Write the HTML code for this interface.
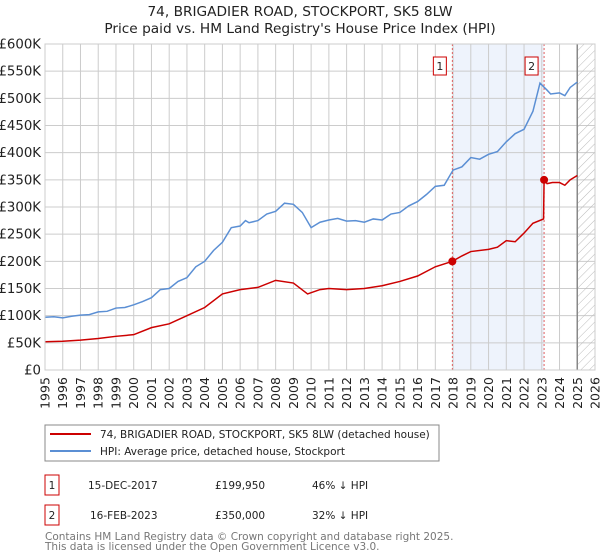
<!DOCTYPE html>
<html><head><meta charset="utf-8"><style>
body{margin:0;background:#fff;}
svg{display:block}
svg text{font-family:"DejaVu Sans","Liberation Sans",sans-serif;}
</style></head><body>
<svg id="c" width="600" height="560" xmlns="http://www.w3.org/2000/svg">
<defs><pattern id="hatch" width="6" height="6" patternUnits="userSpaceOnUse" patternTransform="rotate(45)"><line x1="0" y1="0" x2="0" y2="6" stroke="#bbb" stroke-width="1"/></pattern></defs>
<text x="300" y="16" text-anchor="middle" font-size="13.7" fill="#222">74, BRIGADIER ROAD, STOCKPORT, SK5 8LW</text>
<text x="300" y="33" text-anchor="middle" font-size="13.7" fill="#222">Price paid vs. HM Land Registry's House Price Index (HPI)</text>
<g id="grid"></g><g id="marks"></g><g id="axes"></g>
<rect x="45" y="425" width="394" height="36" fill="#fff" stroke="#888"/>
<line x1="50" y1="434" x2="91" y2="434" stroke="#cc0000" stroke-width="2"/>
<text x="100" y="438" font-size="10.5" fill="#222">74, BRIGADIER ROAD, STOCKPORT, SK5 8LW (detached house)</text>
<line x1="50" y1="451" x2="91" y2="451" stroke="#5b8fd4" stroke-width="2"/>
<text x="100" y="455" font-size="10.5" fill="#222">HPI: Average price, detached house, Stockport</text>
<g font-size="10.5" fill="#222">
<rect x="45" y="475" width="14" height="20" fill="none" stroke="#cc0000"/>
<text x="52" y="489" text-anchor="middle">1</text>
<text x="88" y="489">15-DEC-2017</text>
<text x="215" y="489">£199,950</text>
<text x="312" y="489">46% ↓ HPI</text>
<rect x="45" y="505" width="14" height="20" fill="none" stroke="#cc0000"/>
<text x="52" y="519" text-anchor="middle">2</text>
<text x="90" y="519">16-FEB-2023</text>
<text x="215" y="519">£350,000</text>
<text x="312" y="519">32% ↓ HPI</text>
</g>
<text x="45" y="540" font-size="10.5" fill="#777">Contains HM Land Registry data © Crown copyright and database right 2025.</text>
<text x="45" y="550" font-size="10.5" fill="#777">This data is licensed under the Open Government Licence v3.0.</text>
</svg>
<script>
const yearTicks=[1995,1996,1997,1998,1999,2000,2001,2002,2003,2004,2005,2006,2007,2008,2009,2010,2011,2012,2013,2014,2015,2016,2017,2018,2019,2020,2021,2022,2023,2024,2025,2026];
const valueTicks=[0,50,100,150,200,250,300,350,400,450,500,550,600];
const valueLabels=["£0","£50K","£100K","£150K","£200K","£250K","£300K","£350K","£400K","£450K","£500K","£550K","£600K"];
const hpiYears=[1995,1995.5,1996,1996.5,1997,1997.5,1998,1998.5,1999,1999.5,2000,2000.5,2001,2001.5,2002,2002.5,2003,2003.5,2004,2004.5,2005,2005.5,2006,2006.3,2006.5,2007,2007.5,2008,2008.5,2009,2009.5,2010,2010.5,2011,2011.5,2012,2012.5,2013,2013.5,2014,2014.5,2015,2015.5,2016,2016.5,2017,2017.5,2018,2018.5,2019,2019.5,2020,2020.5,2021,2021.5,2022,2022.5,2022.9,2023.3,2023.5,2024,2024.3,2024.6,2025];
const hpiValues=[97,98,96,99,101,102,107,108,114,115,120,126,133,148,150,163,170,190,200,220,235,262,265,275,271,275,287,292,307,305,290,262,272,276,279,274,275,272,278,276,287,290,302,310,323,338,340,368,374,391,388,397,402,420,435,443,476,528,515,508,510,505,520,530];
const priceYears=[1995,1996,1997,1998,1999,2000,2001,2002,2003,2004,2005,2006,2007,2008,2009,2009.8,2010.5,2011,2012,2013,2014,2015,2016,2017,2017.96,2018.5,2019,2020,2020.5,2021,2021.5,2022,2022.5,2023.1,2023.13,2023.3,2023.6,2024,2024.3,2024.6,2025];
const priceValues=[52,53,55,58,62,65,78,85,100,115,140,148,152,165,160,140,148,150,148,150,155,163,173,190,200,210,218,222,226,238,236,252,270,278,350,343,345,345,340,350,358];
const saleYears=[2017.96,2023.13];
const saleValues=[199.95,350];
const saleLabels=["1","2"];
const X0=45,X1=595,Y0=370,Y1=44;
const x=v=>X0+(v-1995)/31*(X1-X0);
const y=v=>Y0-v/600*(Y0-Y1);
const NS="http://www.w3.org/2000/svg";
function mk(tag,attrs,parent){const e=document.createElementNS(NS,tag);for(const k in attrs)e.setAttribute(k,attrs[k]);parent.appendChild(e);return e;}
const grid=document.getElementById('grid'),marks=document.getElementById('marks'),axes=document.getElementById('axes');
const shade=mk('rect',{x:x(saleYears[0]),y:Y1,width:x(saleYears[1])-x(saleYears[0]),height:Y0-Y1,fill:'#eef3fc'},grid);


yearTicks.forEach(t=>{const l=mk('line',{x1:x(t),x2:x(t),y1:Y1,y2:Y0,stroke:'#ccc'},grid);


const tx=mk('text',{x:0,y:0,transform:`translate(${x(t)+4.5},${Y0+23}) rotate(-90)`,'text-anchor':'middle','font-size':'12.5',fill:'#222'},axes);tx.textContent=t;

});
valueTicks.forEach((t,i)=>{const l=mk('line',{x1:X0,x2:X1,y1:y(t),y2:y(t),stroke:'#ccc'},grid);


const tx=mk('text',{x:X0-4,y:y(t)+4.5,'text-anchor':'end','font-size':'13.3',fill:'#222'},axes);tx.textContent=valueLabels[i];

});
const hatch=mk('rect',{x:x(2025),y:Y1,width:X1-x(2025),height:Y0-Y1,fill:'url(#hatch)'},grid);


const fl=mk('line',{x1:x(2025),x2:x(2025),y1:Y1,y2:Y0,stroke:'#888','stroke-width':1.5},grid);


saleYears.forEach((s,i)=>{const l=mk('line',{x1:x(s),x2:x(s),y1:Y1,y2:Y0,stroke:'#e06060','stroke-dasharray':'2,2'},grid);


const r=mk('rect',{x:x(s)-19,y:57,width:13,height:18,fill:'#fff',stroke:'#cc0000'},axes);


const t=mk('text',{x:x(s)-12.5,y:70,'text-anchor':'middle','font-size':'11',fill:'#222'},axes);t.textContent=saleLabels[i];

});
const hp=mk('polyline',{points:hpiYears.map((v,i)=>x(v)+','+y(hpiValues[i])).join(' '),fill:'none',stroke:'#5b8fd4','stroke-width':1.5},marks);


const pp=mk('polyline',{points:priceYears.map((v,i)=>x(v)+','+y(priceValues[i])).join(' '),fill:'none',stroke:'#cc0000','stroke-width':1.5},marks);


saleYears.forEach((s,i)=>{const c=mk('circle',{cx:x(s),cy:y(saleValues[i]),r:4,fill:'#cc0000'},marks);

});
const fr=mk('rect',{x:X0,y:Y1,width:X1-X0,height:Y0-Y1,fill:'none',stroke:'#ccc'},axes);


</script>
</body></html>
